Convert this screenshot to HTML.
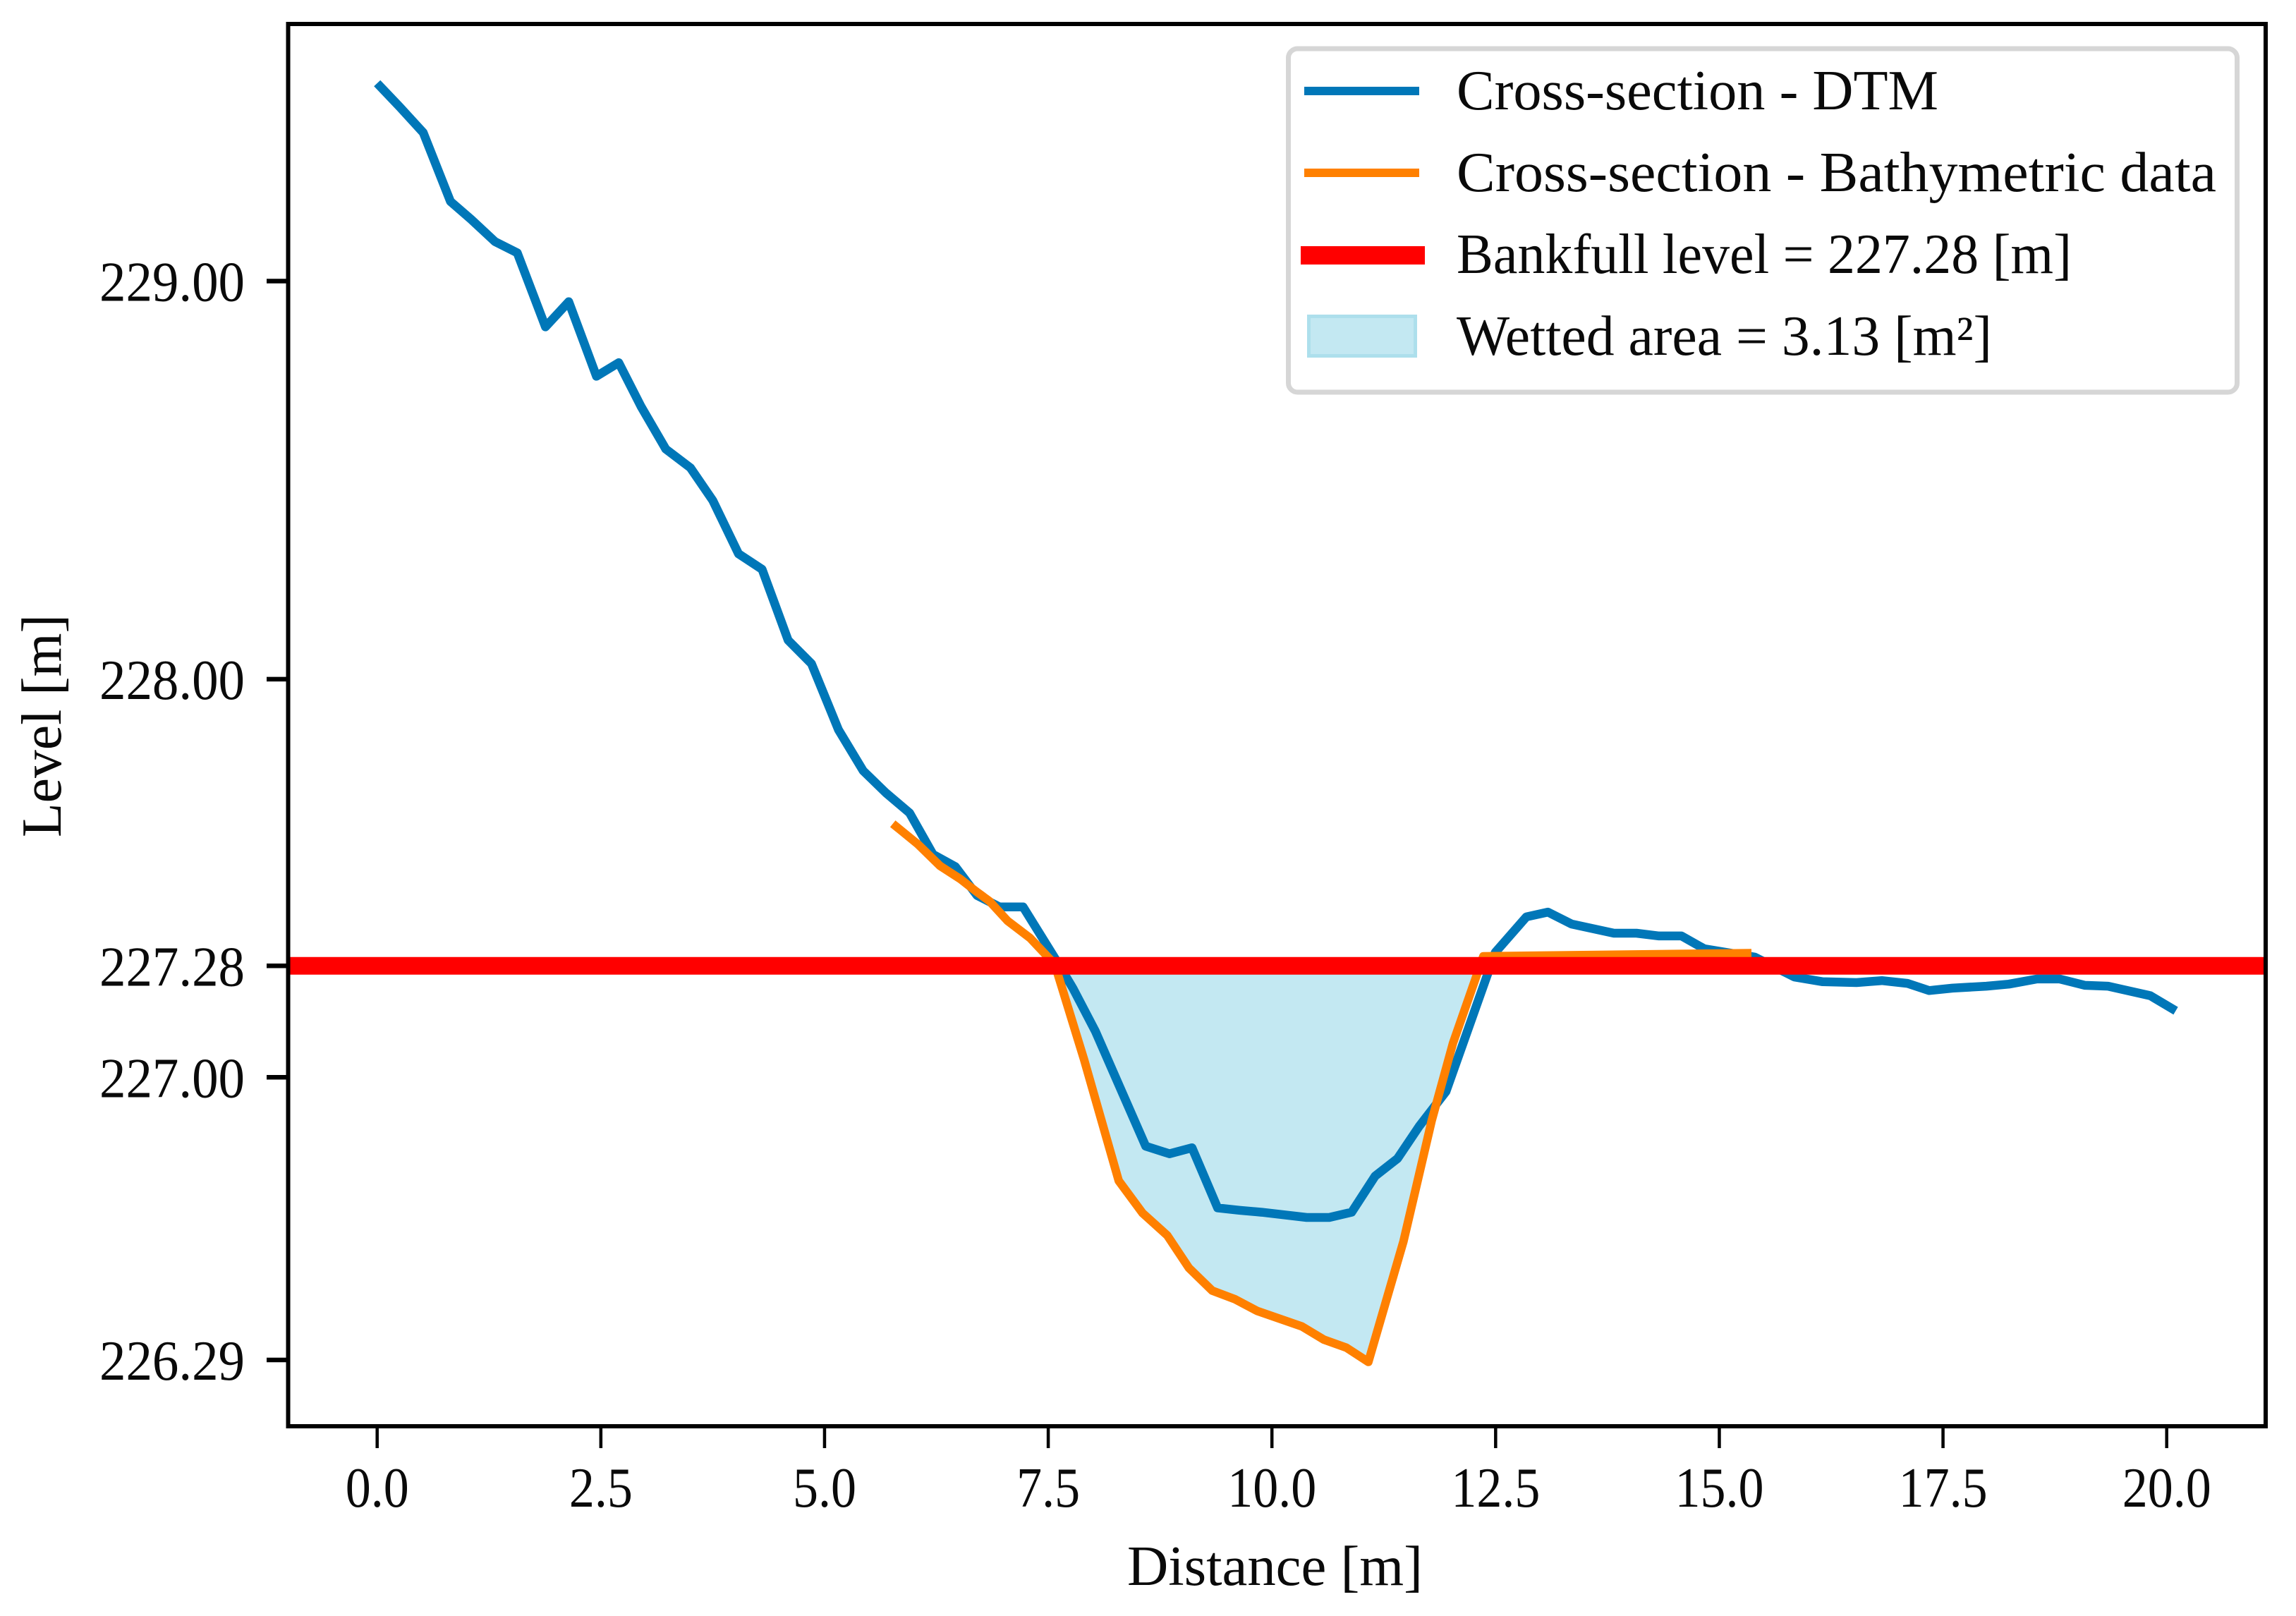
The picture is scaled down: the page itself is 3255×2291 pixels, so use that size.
<!DOCTYPE html>
<html lang="en">
<head>
<meta charset="utf-8">
<title>Cross-section chart</title>
<style>
html,body{margin:0;padding:0;background:#fff;width:3255px;height:2291px;overflow:hidden}
svg{display:block}
text{font-family:"Liberation Serif",serif;fill:#0a0a0a}
</style>
</head>
<body>
<svg id="chart" xmlns="http://www.w3.org/2000/svg" width="3255" height="2291" viewBox="0 0 3255 2291">
  <defs><clipPath id="plot-clip"><rect x="409" y="34" width="2803" height="1988"/></clipPath></defs>
  <g id="marks" clip-path="url(#plot-clip)"></g>
  <g id="ticks"></g>
  <rect x="408.5" y="34" width="2803.5" height="1988" fill="none" stroke="#000" stroke-width="6"/>
  <text x="1598" y="2247" font-size="80" textLength="419" lengthAdjust="spacingAndGlyphs">Distance [m]</text>
  <text transform="translate(86 1187) rotate(-90)" x="0" y="0" font-size="80" textLength="316" lengthAdjust="spacingAndGlyphs">Level [m]</text>
  <g>
    <rect x="1826.5" y="69" width="1345" height="487" rx="13" ry="13" fill="#fff" stroke="#d6d6d6" stroke-width="7"/>
    <rect x="1849" y="123" width="163" height="12" fill="#0077b8"/>
    <rect x="1849" y="239" width="163" height="12" fill="#ff8000"/>
    <rect x="1844" y="349" width="176" height="26" fill="#ff0000"/>
    <rect x="1855.5" y="448.5" width="151" height="56" fill="#c3e8f2" stroke="#addfec" stroke-width="5"/>
    <text x="2065" y="155" font-size="80" textLength="683" lengthAdjust="spacingAndGlyphs">Cross-section - DTM</text>
    <text x="2065" y="271" font-size="80" textLength="1077" lengthAdjust="spacingAndGlyphs">Cross-section - Bathymetric data</text>
    <text x="2065" y="387" font-size="80" textLength="872" lengthAdjust="spacingAndGlyphs">Bankfull level = 227.28 [m]</text>
    <text x="2065" y="503" font-size="80" textLength="759" lengthAdjust="spacingAndGlyphs">Wetted area = 3.13 [m²]</text>
  </g>
</svg>
<script>
const dtmDistance = [0,0.255,0.515,0.819,1.05,1.317,1.566,1.881,2.141,2.451,2.7,2.949,3.226,3.501,3.751,4.039,4.302,4.593,4.854,5.156,5.432,5.684,5.95,6.212,6.463,6.704,6.955,7.219,7.573,7.775,8.026,8.589,8.855,9.107,9.393,9.636,9.886,10.389,10.64,10.891,11.153,11.404,11.646,11.945,12.497,12.844,13.084,13.349,13.822,14.074,14.326,14.578,14.83,15.398,15.839,16.155,16.533,16.817,17.101,17.345,17.605,17.984,18.236,18.551,18.804,19.087,19.344,19.817,20.101];
const dtmLevel = [229.497,229.437,229.373,229.2,229.155,229.099,229.071,228.885,228.948,228.761,228.795,228.685,228.578,228.531,228.449,228.315,228.276,228.098,228.039,227.873,227.77,227.715,227.664,227.56,227.529,227.457,227.428,227.428,227.3,227.224,227.116,226.827,226.808,226.823,226.672,226.666,226.661,226.648,226.648,226.661,226.752,226.796,226.877,226.964,227.314,227.403,227.415,227.385,227.362,227.362,227.355,227.355,227.323,227.302,227.252,227.24,227.238,227.243,227.236,227.218,227.224,227.229,227.234,227.247,227.247,227.231,227.229,227.205,227.167];
const bathyDistance = [5.763,6.041,6.291,6.518,6.694,6.845,7.045,7.297,7.573,7.9,8.288,8.554,8.83,9.072,9.333,9.584,9.836,10.337,10.58,10.831,11.078,11.47,11.786,12.024,12.363,15.359];
const bathyLevel = [227.637,227.586,227.531,227.498,227.467,227.442,227.393,227.35,227.284,227.045,226.74,226.659,226.603,226.521,226.464,226.443,226.413,226.374,226.341,226.321,226.285,226.588,226.892,227.086,227.304,227.312];
const bankfullLevel = 227.28;
const xTicks = [0,2.5,5,7.5,10,12.5,15,17.5,20];
const xTickLabels = ["0.0","2.5","5.0","7.5","10.0","12.5","15.0","17.5","20.0"];
const yTicks = [229,228,227.28,227,226.29];
const yTickLabels = ["229.00","228.00","227.28","227.00","226.29"];

const SVG_NS = 'http://www.w3.org/2000/svg';
const xScale = v => 534.7 + v * 126.85;
const yScale = v => 398.5 + (229 - v) * 564.4;
const marks = document.getElementById('marks');
const ticks = document.getElementById('ticks');

function make(tag, parent, attrs) {
  const el = document.createElementNS(SVG_NS, tag);
  for (const k in attrs) el.setAttribute(k, attrs[k]);
  parent.appendChild(el);
  return el;
}
function pointsOf(xs, ys) {
  return xs.map((x, i) => xScale(x).toFixed(1) + ',' + yScale(ys[i]).toFixed(1)).join(' ');
}
function wettedPolygon() {
  const out = [];
  for (let i = 0; i < bathyDistance.length; i++) {
    const below = bathyLevel[i] < bankfullLevel;
    if (i > 0) {
      const prevBelow = bathyLevel[i - 1] < bankfullLevel;
      if (below !== prevBelow) {
        const t = (bankfullLevel - bathyLevel[i - 1]) / (bathyLevel[i] - bathyLevel[i - 1]);
        const cx = bathyDistance[i - 1] + t * (bathyDistance[i] - bathyDistance[i - 1]);
        out.push(xScale(cx).toFixed(1) + ',' + yScale(bankfullLevel).toFixed(1));
      }
    }
    if (below) out.push(xScale(bathyDistance[i]).toFixed(1) + ',' + yScale(bathyLevel[i]).toFixed(1));
  }
  return out.join(' ');
}

const wetted = make('polygon', marks, { points: wettedPolygon(), fill: '#c3e8f2' });



const dtmLine = make('polyline', marks, { points: pointsOf(dtmDistance, dtmLevel), fill: 'none', stroke: '#0077b8', 'stroke-width': 12.5, 'stroke-linejoin': 'round' });



const bathyLine = make('polyline', marks, { points: pointsOf(bathyDistance, bathyLevel), fill: 'none', stroke: '#ff8000', 'stroke-width': 12, 'stroke-linejoin': 'round' });



const bankLine = make('line', marks, { x1: 409, x2: 3212, y1: yScale(bankfullLevel), y2: yScale(bankfullLevel), stroke: '#ff0000', 'stroke-width': 25 });



xTicks.forEach((v, i) => {
  const px = xScale(v);
  const tick = make('line', ticks, { x1: px, x2: px, y1: 2022, y2: 2053, stroke: '#000', 'stroke-width': 4.5 });
  
  
  const label = xTickLabels[i];
  const w = label.length > 3 ? 126 : 90;
  const txt = make('text', ticks, { x: px - w / 2, y: 2136, 'font-size': 80, textLength: w, lengthAdjust: 'spacingAndGlyphs' });
  txt.textContent = label;
  
  
});
yTicks.forEach((v, i) => {
  const py = yScale(v);
  const tick = make('line', ticks, { x1: 378, x2: 408, y1: py, y2: py, stroke: '#000', 'stroke-width': 6.5 });
  
  
  const txt = make('text', ticks, { x: 141, y: py + 28, 'font-size': 80, textLength: 206, lengthAdjust: 'spacingAndGlyphs' });
  txt.textContent = yTickLabels[i];
  
  
});
</script>
</body>
</html>
